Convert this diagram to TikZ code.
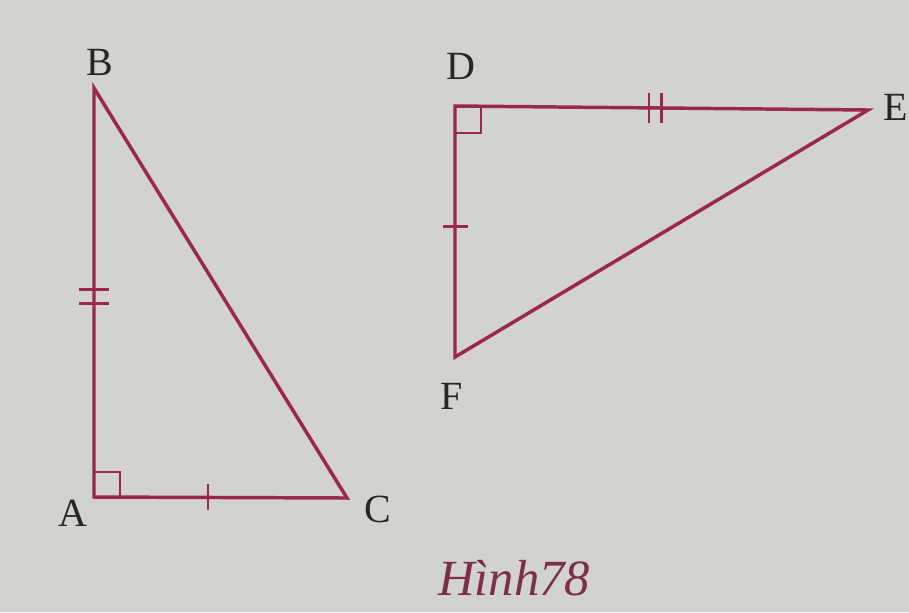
\documentclass[tikz,border=0pt]{standalone}
\usepackage{fontspec}
\setmainfont{Liberation Serif}
\usepackage{tikz}
\usepackage{xcolor}
\usetikzlibrary{calc}
\definecolor{paper}{HTML}{D2D2CF}
\definecolor{edge}{HTML}{9A2848}
\definecolor{caption}{HTML}{7C2F4B}

\begin{document}
\begin{tikzpicture}[x=0.75pt,y=-0.75pt,
    side/.style={edge,line width=2.6pt,line join=miter},
    tick/.style={edge,line width=2pt},
    corner/.style={edge,line width=1.8pt},
    vertex/.style={text=black!85,font=\fontsize{30}{30}\selectfont,inner sep=0pt}]
    \fill[paper] (0,0) rectangle (909,612);
    \useasboundingbox (0,0) rectangle (909,612);

    % triangle ABC
    \coordinate (A) at (94,497);
    \coordinate (B) at (94,88);
    \coordinate (C) at (347,498);
    \draw[side] (A)--(B)--(C)--cycle;
    \draw[corner] ($(A)+(0,-25)$)-|($(A)+(26,0)$);
    \draw[tick] ($(A)!0.49!(B)+(-15,-7)$)--++(30,0);
    \draw[tick] ($(A)!0.49!(B)+(-15,7)$)--++(30,0);
    \draw[tick] ($(A)!0.45!(C)+(0,-13)$)--++(0,26);
    \node[vertex] (a) at (73,513) {A};
    \node[vertex] (b) at (100,62) {B};
    \node[vertex] (c) at (378,509) {C};

    % triangle DEF
    \coordinate (D) at (455,106);
    \coordinate (E) at (868,110);
    \coordinate (F) at (455,357);
    \draw[side] (D)--(E)--(F)--cycle;
    \draw[corner] ($(D)+(0,27)$)-|($(D)+(26,0)$);
    \draw[tick] ($(D)!0.47!(E)+(0,-15)$)--++(0,30);
    \draw[tick] ($(D)!0.50!(E)+(0,-15)$)--++(0,30);
    \draw[tick] ($(D)!0.48!(F)+(-12,0)$)--++(25,0);
    \node[vertex] (d) at (461,66) {D};
    \node[vertex] (e) at (896,107) {E};
    \node[vertex] (f) at (452,396) {F};

    \node[caption,font=\fontsize{38}{38}\selectfont\itshape] (cap) at (514,578) {Hình78};
\end{tikzpicture}
\end{document}
